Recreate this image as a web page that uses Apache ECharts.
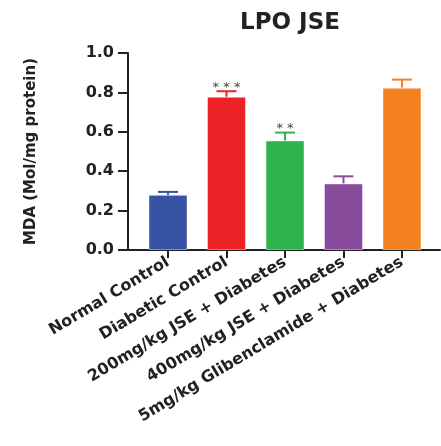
<!DOCTYPE html>
<html><head><meta charset="utf-8">
<script src="https://cdn.jsdelivr.net/npm/echarts@6/dist/echarts.min.js"></script>
<style>html,body{margin:0;padding:0;background:#fff}#c{width:441px;height:446px}</style>
</head><body><div id="c"></div>
<script>
var categories = ['Normal Control','Diabetic Control','200mg/kg JSE + Diabetes','400mg/kg JSE + Diabetes','5mg/kg Glibenclamide + Diabetes'];
var means = [0.28, 0.778, 0.556, 0.338, 0.824];
var errors = [0.015, 0.028, 0.04, 0.036, 0.041];
var significance = ['', '***', '**', '', ''];
var barColors = ['#3953A4','#EC2227','#2EB24B','#894C9D','#F48120'];
var yTickValues = [0, 0.2, 0.4, 0.6, 0.8, 1.0];
var xPositions = categories.map(function(_, i){ return i; });

var FONT = 'DejaVu Sans';
var chart = echarts.init(document.getElementById('c'), null, {renderer:'canvas'});
var barData = means.map(function(m, i){
  return {value:[i, m], itemStyle:{color:barColors[i], borderColor:'rgba(255,255,255,0.45)', borderWidth:1}};
});
var errData = means.map(function(m, i){ return [i, m, errors[i], significance[i]]; });

chart.setOption({
  animation:false,
  title:{text:'LPO JSE', left:285, top:7, textAlign:'center',
    textStyle:{fontFamily:FONT, fontWeight:'bold', fontSize:23, color:'#222'}},
  grid:{left:128, right:1, top:53, bottom:196},
  xAxis:{type:'value', min:-0.684, max:4.65,
    axisLine:{show:true, onZero:false, lineStyle:{color:'#222', width:2}},
    axisTick:{show:true, length:8, lineStyle:{color:'#222', width:2}, customValues:xPositions},
    axisLabel:{customValues:xPositions, rotate:31, margin:11, fontFamily:FONT, fontWeight:'bold', fontSize:16, color:'#222',
      formatter:function(v){ return categories[Math.round(v)]; }},
    splitLine:{show:false}},
  yAxis:{type:'value', min:0, max:1, interval:0.2,
    name:'MDA (Mol/mg protein)', nameLocation:'middle', nameGap:89, nameRotate:90,
    nameTextStyle:{fontFamily:FONT, fontWeight:'bold', fontSize:15, color:'#222'},
    axisLine:{show:true, onZero:false, lineStyle:{color:'#222', width:2}},
    axisTick:{show:true, length:10, lineStyle:{color:'#222', width:2}},
    axisLabel:{margin:14, fontFamily:FONT, fontWeight:'bold', fontSize:16, color:'#222',
      formatter:function(v){ return v.toFixed(1); }},
    splitLine:{show:false}},
  series:[
    {type:'bar', data:barData, barWidth:39},
    {type:'custom', data:errData, z:5,
      renderItem:function(params, api){
        var i = api.value(0), m = api.value(1), e = api.value(2);
        var idx = params.dataIndex;
        var base = api.coord([i, m]);
        var top = api.coord([i, m + e]);
        var col = barColors[idx];
        var children = [
          {type:'line', shape:{x1:base[0], y1:base[1], x2:top[0], y2:top[1]}, style:{stroke:col, lineWidth:2}},
          {type:'line', shape:{x1:top[0]-10, y1:top[1], x2:top[0]+10, y2:top[1]}, style:{stroke:col, lineWidth:2}}
        ];
        var s = significance[idx];
        if (s) {
          children.push({type:'text', style:{text:s.split('').join(' '), x:top[0], y:top[1]-4,
            align:'center', verticalAlign:'middle', fill:'#444', font:'13px "'+FONT+'"'}});
        }
        return {type:'group', children:children};
      }}
  ]
});
</script></body></html>
